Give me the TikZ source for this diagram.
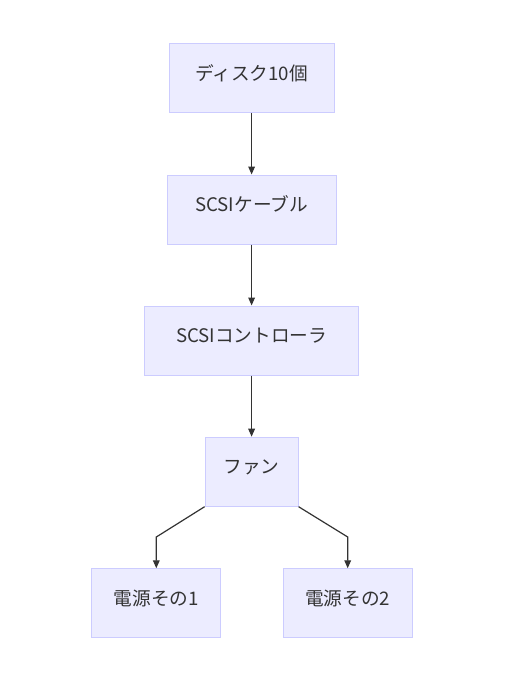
\documentclass[tikz,border=0pt]{standalone}
\usepackage{fontspec}
\setmainfont{Noto Sans CJK JP}
\usepackage{tikz}
\usetikzlibrary{arrows.meta}

\definecolor{boxfill}{HTML}{ECECFF}
\definecolor{boxline}{HTML}{CCCCFF}
\definecolor{txt}{HTML}{333333}

\begin{document}
\begin{tikzpicture}[x=0.75pt, y=-0.75pt,
        box/.style = {draw=boxline, fill=boxfill, line width=0.75pt, minimum height=51.75pt,
                      inner sep=0pt, text height=10pt, text depth=7pt,
                      font={\fontsize{14}{16}\selectfont}, text=txt},
        link/.style = {draw=txt, line width=0.9pt, -{Triangle[length=6pt, width=5pt]}}]
        \useasboundingbox[fill=white] (0, 0) rectangle (518, 681);

        % main column
        \node[box, minimum width=123.75pt] (disk) at (251.6, 78.5) {ディスク10個};
        \node[box, minimum width=126.75pt] (cable) at (251.6, 209.5) {SCSIケーブル};
        \node[box, minimum width=160.5pt] (ctrl) at (251.6, 340.5) {SCSIコントローラ};
        \node[box, minimum width=69.75pt] (fan) at (251.6, 471.7) {ファン};

        % power supplies
        \node[box, minimum width=96.75pt] (psu1) at (156.3, 603.3) {電源その1};
        \node[box, minimum width=96.75pt] (psu2) at (347.7, 603.3) {電源その2};

        \draw[link] (disk) -- (cable);
        \draw[link] (cable) -- (ctrl);
        \draw[link] (ctrl) -- (fan);
        \draw[link] (fan.south west) -- (psu1.north |- 0, 537) -- (psu1.north);
        \draw[link] (fan.south east) -- (psu2.north |- 0, 537) -- (psu2.north);
\end{tikzpicture}
\end{document}
